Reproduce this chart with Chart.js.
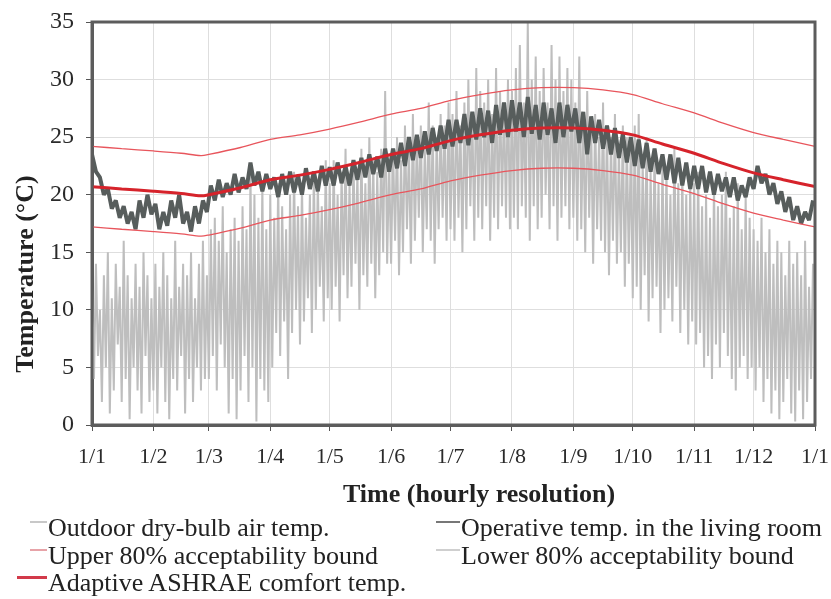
<!DOCTYPE html>
<html>
<head>
<meta charset="utf-8">
<script src="https://cdn.jsdelivr.net/npm/chart.js@4.4.1/dist/chart.umd.min.js"></script>
<style>
    body { margin: 0; background: #fff; }
    #wrap { position: relative; width: 831px; height: 599px; font-family: 'Liberation Serif', 'Times New Roman', serif; color: #222; }
    #line-chart { position: absolute; left: 0; top: 0; }
    .title { position: absolute; font-weight: bold; font-size: 26px; white-space: nowrap; }
    .item { position: absolute; font-size: 26px; line-height: 28px; white-space: nowrap; }
    .mark { position: absolute; height: 0; }
</style>
</head>
<body>
<div id="wrap">
    <canvas id="line-chart" width="831" height="480"></canvas>
    <div class="title" id="ytitle" style="left:25px; top:274px; transform: translate(-50%, -50%) rotate(-90deg);">Temperature (°C)</div>
    <div class="title" style="left:343px; top:479px;">Time (hourly resolution)</div>
    <div id="legend"></div>
</div>
<script>
// month boundaries (day of year) and their labels
var monthStarts = [0, 31, 59, 90, 120, 151, 181, 212, 243, 273, 304, 334, 365];
var tickLabels = ['1/1', '1/2', '1/3', '1/4', '1/5', '1/6', '1/7', '1/8', '1/9', '1/10', '1/11', '1/12', '1/1'];

// outdoor dry-bulb temp, one reading per day (alternating daily peak / trough), one row per month
var outdoorStep = 1;
var outdoorTemp = [
    12, 4, 14, 6, 10, 2, 13, 5, 15, 1, 11, 3, 14, 7, 12, 2, 16, 4, 13, 0.5, 11, 5, 14, 3, 12, 1, 15, 6, 13, 2, 11,
    3, 14, 1, 12, 5, 15, 2, 13, 0.5, 11, 4, 16, 3, 12, 6, 14, 1, 13, 4, 15, 2, 11, 5, 14, 3, 16, 4, 13,
    4, 17, 6, 18, 3, 16, 7, 19, 5, 15, 1, 17, 4, 18, 0.5, 16, 3, 19, 6, 17, 2, 22, 5, 20, 0.3, 18, 4, 21, 3, 17, 2,
    20, 5, 18, 8, 21, 6, 19, 9, 17, 4, 20, 8, 22, 10, 19, 7, 21, 9, 18, 11, 20, 8, 22, 10, 21, 12, 19, 9, 23, 11,
    21, 10, 23, 12, 20, 9, 22, 13, 24, 11, 21, 12, 23, 14, 22, 10, 24, 13, 21, 12, 25, 14, 23, 11, 22, 13, 24, 15, 29, 14, 23,
    14, 24, 16, 25, 13, 23, 15, 26, 17, 24, 14, 27, 16, 25, 18, 26, 15, 24, 17, 28, 16, 26, 14, 25, 17, 27, 18, 26, 16, 28,
    17, 27, 16, 29, 18, 26, 15, 28, 17, 30, 19, 27, 16, 31, 18, 29, 17, 28, 19, 30, 16, 27, 18, 31, 17, 29, 19, 28, 18, 30, 17,
    29, 18, 31, 17, 33, 19, 28, 18, 35, 16, 30, 19, 32, 17, 29, 18, 31, 20, 28, 17, 33, 19, 30, 16, 32, 18, 29, 19, 31, 17, 30,
    18, 28, 16, 32, 17, 27, 15, 29, 18, 26, 14, 27, 17, 25, 16, 28, 15, 26, 13, 25, 16, 27, 14, 24, 15, 26, 12, 25, 14, 24,
    11, 26, 12, 27, 10, 23, 13, 25, 9, 22, 11, 24, 12, 21, 8, 23, 10, 22, 11, 20, 9, 24, 12, 21, 8, 22, 10, 20, 7, 21, 9,
    21, 7, 22, 8, 19, 5, 20, 6, 18, 4, 21, 7, 19, 5, 20, 8, 22, 6, 18, 4, 19, 3, 21, 5, 17, 6, 20, 4, 18, 5,
    17, 3, 16, 5, 18, 2, 15, 4, 17, 1, 14, 3, 16, 0.5, 15, 2, 13, 4, 16, 1, 14, 0.3, 15, 3, 13, 0.5, 16, 2, 12, 4, 14
];

// operative temp in the living room, one reading every 2 days
var operativeStep = 2;
var operativeTemp = [
    23.5, 22, 21.5, 20, 20.5, 18.8, 19.5, 18, 19, 17.5, 18.5, 17, 19.5, 18, 20, 18.3,
    19.2, 17, 18.5, 17.3, 19.5, 18, 20, 17.5, 18.5, 16.8, 19, 17.5, 19.5, 18.5,
    20.8, 19.5, 21.3, 19.8, 21, 20, 21.8, 20.2, 21.5, 20.5, 22.8, 20.8, 22, 20.3, 21.8,
    20.5, 21.5, 19.8, 21.8, 20, 22, 20.2, 21.7, 20, 22.3, 20.5, 22, 20.3, 22.5, 20.8,
    22.4, 20.8, 22.8, 21, 22.5, 20.8, 23, 21.3, 23.2, 21.5, 23.5, 21.8, 23.3, 21.5, 24, 22,
    24, 22.3, 24.5, 22.5, 25, 23, 25.2, 23.2, 25.5, 23.5, 25.8, 23.8, 26, 24, 26.5,
    24.2, 26.5, 24.5, 27, 24.3, 27.2, 24.8, 27.5, 25, 27.3, 24.5, 27.8, 25.2, 28, 25,
    28.2, 25.5, 28, 25, 28.5, 25.3, 27.8, 24.8, 28, 25.2, 27.5, 24.5, 28, 25, 27.8, 25.5,
    27.5, 24.5, 27.2, 23.5, 26.8, 24.5, 26.5, 24, 26, 23.5, 25.8, 23.2, 25.3, 22.8, 25,
    22.5, 24.8, 22.3, 24.5, 22, 24, 21.8, 23.5, 21.3, 23.5, 21, 23.2, 20.8, 22.8, 20.5,
    22.5, 20.5, 22.5, 20.2, 22, 20, 21.8, 20.3, 21.5, 19.8, 21.5, 19.5, 20.8, 19.8, 21.5,
    20.5, 22.5, 21, 21.8, 20, 21, 19.2, 20.3, 18.5, 19.8, 17.8, 19, 17.5, 18.5, 17.8, 19.5
];

// adaptive comfort temp and 80% bounds
var comfortDays = [0, 15, 31, 45, 55, 59, 75, 90, 105, 120, 135, 151, 166, 181, 196, 212, 227, 243, 258, 273, 288, 304, 319, 334, 349, 365];
var comfortTemp = [20.7, 20.5, 20.3, 20.1, 19.9, 20.0, 20.6, 21.3, 21.7, 22.2, 22.8, 23.5, 24.0, 24.7, 25.2, 25.6, 25.8, 25.8, 25.6, 25.2, 24.4, 23.6, 22.7, 21.9, 21.3, 20.7];
var upperBound = [24.2, 24.0, 23.8, 23.6, 23.4, 23.5, 24.1, 24.8, 25.2, 25.7, 26.3, 27.0, 27.5, 28.2, 28.7, 29.1, 29.3, 29.3, 29.1, 28.7, 27.9, 27.1, 26.2, 25.4, 24.8, 24.2];
var lowerBound = [17.2, 17.0, 16.8, 16.6, 16.4, 16.5, 17.1, 17.8, 18.2, 18.7, 19.3, 20.0, 20.5, 21.2, 21.7, 22.1, 22.3, 22.3, 22.1, 21.7, 20.9, 20.1, 19.2, 18.4, 17.8, 17.2];

var legendItems = [
    { text: 'Outdoor dry-bulb air temp.', color: '#c8c8c8', width: 2, mark: [30, 47], textLeft: 48, top: 514 },
    { text: 'Operative temp. in the living room', color: '#777', width: 2, mark: [436, 460], textLeft: 461, top: 514 },
    { text: 'Upper 80% acceptability bound', color: '#e7a3a8', width: 2, mark: [30, 47], textLeft: 48, top: 542 },
    { text: 'Lower 80% acceptability bound', color: '#cfcfcf', width: 2, mark: [436, 460], textLeft: 461, top: 542 },
    { text: 'Adaptive ASHRAE comfort temp.', color: '#d23a4a', width: 3, mark: [17, 47], textLeft: 48, top: 569 }
];

function toPoints(xs, ys) {
    return ys.map(function(v, i) { return { x: xs[i], y: v }; });
}
function stepPoints(step, ys) {
    return ys.map(function(v, i) { return { x: i * step, y: v }; });
}

// plot frame drawn over the chart area
var framePlugin = {
    id: 'frame',
    afterDatasetsDraw: function(chart) {
        var a = chart.chartArea, c = chart.ctx;
        c.save();
        c.strokeStyle = '#5c5c5c';
        c.lineWidth = 3;
        c.strokeRect(a.left, a.top, a.right - a.left, a.bottom - a.top);
        c.restore();
    }
};

document.addEventListener("DOMContentLoaded", function() {
    var ctx = document.getElementById('line-chart').getContext('2d');

    new Chart(ctx, {
        type: 'line',
        data: {
            datasets: [
                { label: 'Adaptive ASHRAE comfort temp.', data: toPoints(comfortDays, comfortTemp), borderColor: '#d6232b', borderWidth: 3, tension: 0.3, order: 0 },
                { label: 'Upper 80% acceptability bound', data: toPoints(comfortDays, upperBound), borderColor: '#e8555c', borderWidth: 1.3, tension: 0.3, order: 1 },
                { label: 'Lower 80% acceptability bound', data: toPoints(comfortDays, lowerBound), borderColor: '#e8555c', borderWidth: 1.3, tension: 0.3, order: 1 },
                { label: 'Operative temp. in the living room', data: stepPoints(operativeStep, operativeTemp), borderColor: '#575d5c', borderWidth: 4, order: 2 },
                { label: 'Outdoor dry-bulb air temp.', data: stepPoints(outdoorStep, outdoorTemp), borderColor: '#bebebe', borderWidth: 2, order: 3 }
            ]
        },
        options: {
            responsive: false,
            animation: false,
            elements: { point: { radius: 0 }, line: { tension: 0, borderJoinStyle: 'bevel' } },
            layout: { padding: { left: 0, right: 16, top: 22, bottom: 0 } },
            plugins: { legend: { display: false }, tooltip: { enabled: false } },
            scales: {
                x: {
                    type: 'linear',
                    min: 0,
                    max: 365,
                    afterBuildTicks: function(scale) {
                        scale.ticks = monthStarts.map(function(v) { return { value: v }; });
                    },
                    afterFit: function(scale) {
                        scale.height = 55;
                        scale.paddingLeft = 0;
                        scale.paddingRight = 0;
                    },
                    ticks: {
                        autoSkip: false,
                        maxRotation: 0,
                        padding: 13,
                        color: '#2a2a2a',
                        font: { family: 'Liberation Serif', size: 22 },
                        callback: function(value) {
                            var i = monthStarts.indexOf(value);
                            return i >= 0 ? tickLabels[i] : '';
                        }
                    },
                    grid: { color: '#dedede', tickColor: '#555', tickLength: 6 },
                    border: { color: '#5c5c5c', width: 3 }
                },
                y: {
                    min: 0,
                    max: 35,
                    afterFit: function(scale) {
                        scale.width = 92;
                        scale.paddingTop = 0;
                        scale.paddingBottom = 0;
                    },
                    ticks: {
                        stepSize: 5,
                        padding: 12,
                        color: '#2a2a2a',
                        font: { family: 'Liberation Serif', size: 24 }
                    },
                    grid: { color: '#dedede', tickColor: '#555', tickLength: 6 },
                    border: { color: '#5c5c5c', width: 3 }
                }
            }
        },
        plugins: [framePlugin]
    });

    // legend in two columns below the chart
    var box = document.getElementById('legend');
    legendItems.forEach(function(it) {
        var m = document.createElement('div');
        m.className = 'mark';
        m.style.left = it.mark[0] + 'px';
        m.style.top = (it.top + 7) + 'px';
        m.style.width = (it.mark[1] - it.mark[0]) + 'px';
        m.style.borderTop = it.width + 'px solid ' + it.color;
        box.appendChild(m);
        var t = document.createElement('div');
        t.className = 'item';
        t.style.left = it.textLeft + 'px';
        t.style.top = it.top + 'px';
        t.textContent = it.text;
        box.appendChild(t);
    });
});
</script>
</body>
</html>
